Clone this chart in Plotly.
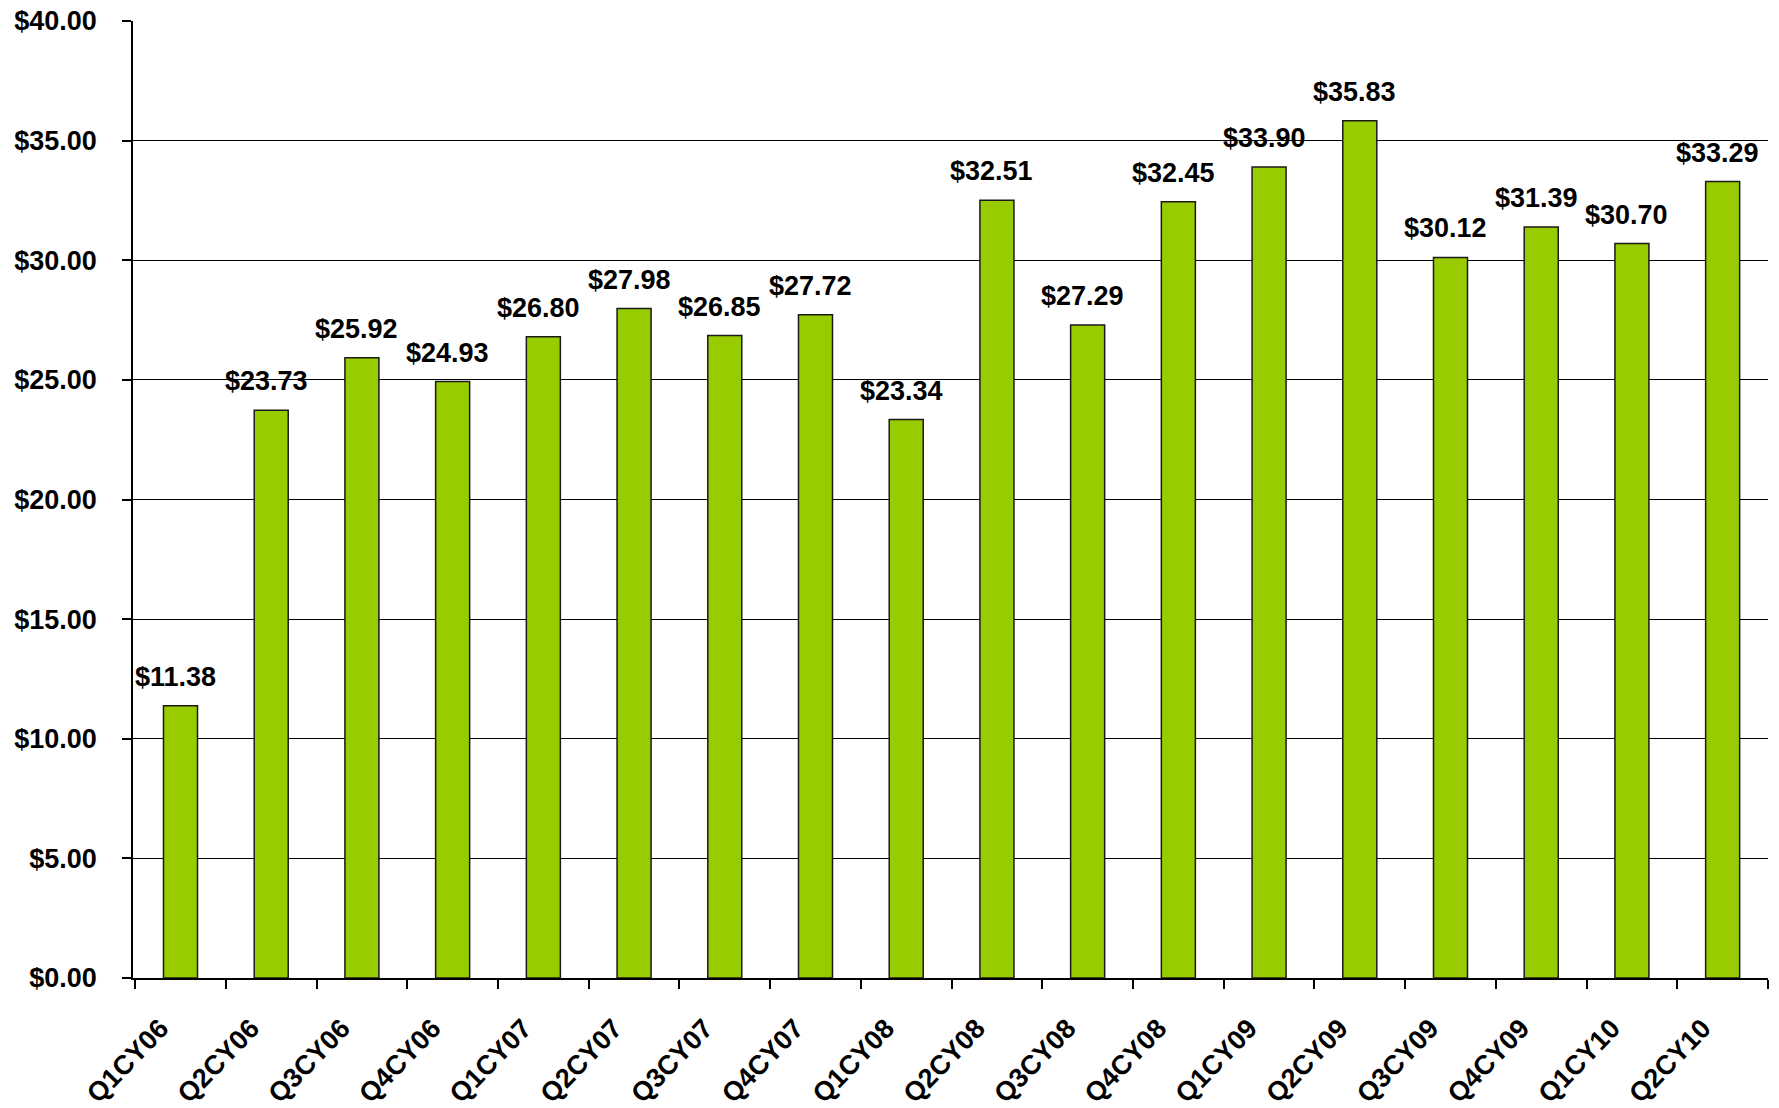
import plotly.graph_objects as go

# Quarterly values
quarters = ["Q1CY06", "Q2CY06", "Q3CY06", "Q4CY06", "Q1CY07", "Q2CY07",
            "Q3CY07", "Q4CY07", "Q1CY08", "Q2CY08", "Q3CY08", "Q4CY08",
            "Q1CY09", "Q2CY09", "Q3CY09", "Q4CY09", "Q1CY10", "Q2CY10"]
values = [11.38, 23.73, 25.92, 24.93, 26.80, 27.98, 26.85, 27.72, 23.34,
          32.51, 27.29, 32.45, 33.90, 35.83, 30.12, 31.39, 30.70, 33.29]
y_ticks = [0, 5, 10, 15, 20, 25, 30, 35, 40]
y_tick_labels = ["$%.2f" % v for v in y_ticks]

FONT = "Liberation Sans, Arial, sans-serif"
FSIZE = 27

fig = go.Figure()
fig.add_trace(go.Bar(
    x=quarters,
    y=values,
    width=0.375,
    marker=dict(color="#99CC00", line=dict(color="#1a1a1a", width=1.5)),
    hoverinfo="skip",
))

# Value labels above each bar
for q, v in zip(quarters, values):
    fig.add_annotation(
        x=q, y=v, text="<b>$%.2f</b>" % v, showarrow=False,
        yanchor="bottom", xanchor="center", yshift=12, xshift=-5,
        font=dict(family=FONT, size=FSIZE, color="#000000"),
    )

fig.update_layout(
    width=1779, height=1108,
    margin=dict(l=133, r=11, t=21, b=130, autoexpand=False),
    paper_bgcolor="white", plot_bgcolor="white",
    showlegend=False,
    bargap=0.625,
    font=dict(family=FONT, size=FSIZE, color="#000000"),
)
fig.update_xaxes(
    type="category",
    automargin=False,
    tickson="boundaries",
    ticks="outside", ticklen=9, tickwidth=1.5, tickcolor="#000000",
    showline=True, linecolor="#000000", linewidth=1.5,
    showgrid=False,
    tickangle=-46,
    ticklabelstandoff=22,
    ticklabelshift=-20,
    tickfont=dict(family=FONT, size=FSIZE, color="#000000", weight="bold"),
)
fig.update_yaxes(
    range=[0, 40],
    automargin=False,
    tickvals=y_ticks, ticktext=y_tick_labels,
    ticks="outside", ticklen=9, tickwidth=1.5, tickcolor="#000000",
    showline=True, linecolor="#000000", linewidth=1.5,
    showgrid=True, gridcolor="#000000", gridwidth=1.2,
    zeroline=False,
    ticklabelstandoff=20,
    tickfont=dict(family=FONT, size=FSIZE, color="#000000", weight="bold"),
)

fig.write_html("out.html")
